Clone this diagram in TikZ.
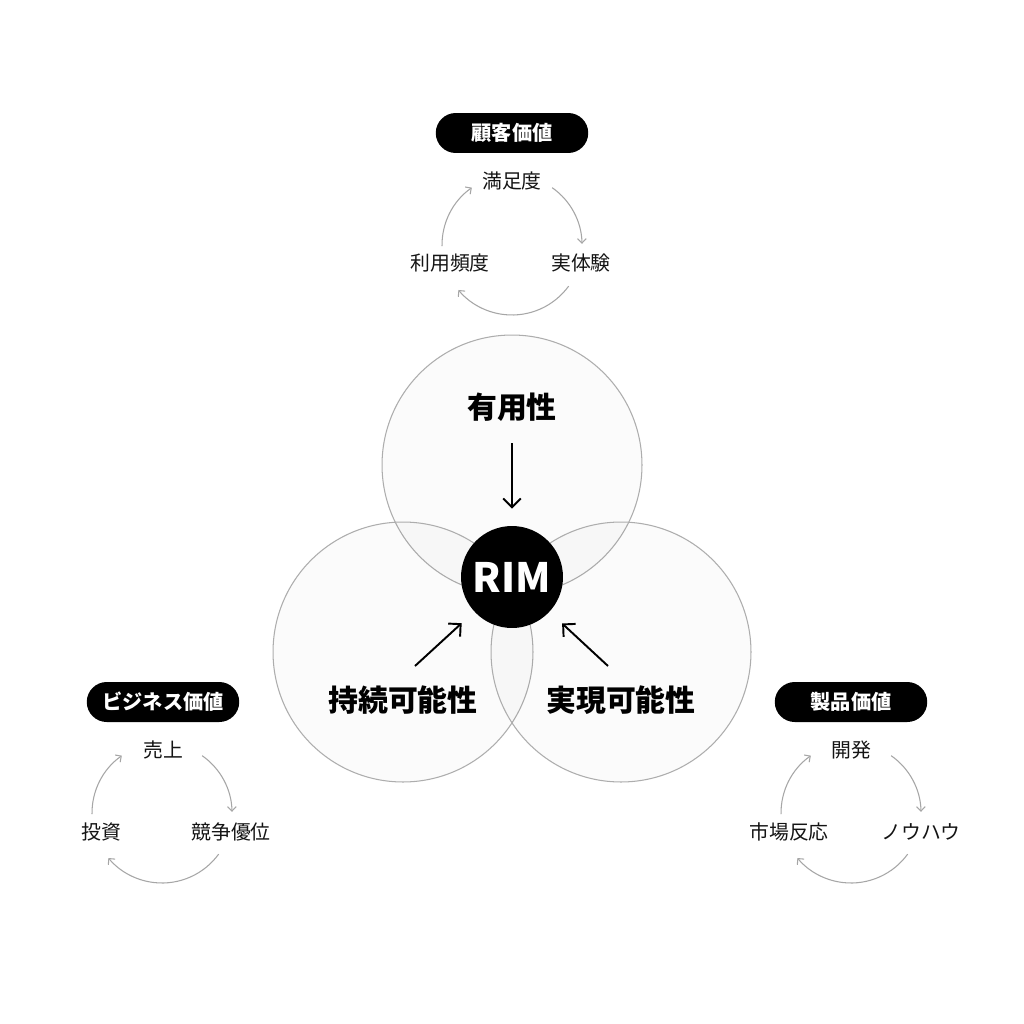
\documentclass[tikz,border=0pt]{standalone}
\usepackage{fontspec}
\setmainfont{Noto Sans CJK JP}
\usetikzlibrary{arrows.meta}

\begin{document}
\begin{tikzpicture}[
x=0.02cm,y=0.02cm,
ring/.style={circle,draw=black!32,line width=0.6pt,fill=black,fill opacity=0.017,draw opacity=1,minimum size=5.2cm,inner sep=0pt},
core/.style={circle,fill=black,text=white,minimum size=2.04cm,inner sep=0pt,font=\fontsize{23}{26}\selectfont\bfseries},
biglabel/.style={font=\fontsize{17}{20}\selectfont\bfseries,inner sep=0pt},
pill/.style={fill=black,text=white,rounded corners=0.4cm,minimum width=3.05cm,minimum height=0.8cm,inner sep=0pt,font=\fontsize{11.5}{14}\selectfont\bfseries},
item/.style={font=\fontsize{11.3}{14}\selectfont,text=black!92,inner sep=0pt},
arrow/.style={-{Straight Barb[length=5pt,width=10pt]},line width=1.1pt,shorten >=0.34cm},
cyc/.style={-{Straight Barb[length=2.5pt,width=5pt]},draw=black!35,line width=0.6pt}]

\fill[white] (0,0) rectangle (1024,-1024);

\useasboundingbox (0,0) rectangle (1024,-1024);

\node[ring] (useful) at (512,-465) {};

\node[ring] (sustain) at (403,-652) {};

\node[ring] (feasible) at (621,-652) {};

\node[biglabel] (usefultxt) at (512,-407) {有用性};

\node[biglabel] (sustaintxt) at (403,-700) {持続可能性};

\node[biglabel] (feasibletxt) at (621,-700) {実現可能性};

\node[core] (rim) at (512,-577) {RIM};

\coordinate (a1) at (512,-443);

\coordinate (a2) at (415,-666);

\coordinate (a3) at (608,-666);

\draw[arrow] (a1) -- (rim);

\draw[arrow] (a2) -- (rim);

\draw[arrow] (a3) -- (rim);

% customer value
\node[pill] (cvtag) at (512,-133) {顧客価値};

\coordinate (cv) at (512,-245);

\node[item] (cv1) at (512,-181) {満足度};

\node[item] (cv2) at (581,-263) {実体験};

\node[item] (cv3) at (450,-263) {利用頻度};

\draw[cyc] (cv) ++(55:70) arc (55:1:70);

\draw[cyc] (cv) ++(-36:70) arc (-36:-140:70);

\draw[cyc] (cv) ++(181:70) arc (181:125:70);

% business value
\node[pill] (bvtag) at (163,-702) {ビジネス価値};

\coordinate (bv) at (162,-813);

\node[item] (bv1) at (163,-750) {売上};

\node[item] (bv2) at (231,-832) {競争優位};

\node[item] (bv3) at (101,-832) {投資};

\draw[cyc] (bv) ++(55:70) arc (55:1:70);

\draw[cyc] (bv) ++(-36:70) arc (-36:-140:70);

\draw[cyc] (bv) ++(181:70) arc (181:125:70);

% product value
\node[pill] (pvtag) at (851,-702) {製品価値};

\coordinate (pv) at (851,-813);

\node[item] (pv1) at (851,-750) {開発};

\node[item] (pv2) at (921,-832) {ノウハウ};

\node[item] (pv3) at (789,-832) {市場反応};

\draw[cyc] (pv) ++(55:70) arc (55:1:70);

\draw[cyc] (pv) ++(-36:70) arc (-36:-140:70);

\draw[cyc] (pv) ++(181:70) arc (181:125:70);

\end{tikzpicture}
\end{document}
